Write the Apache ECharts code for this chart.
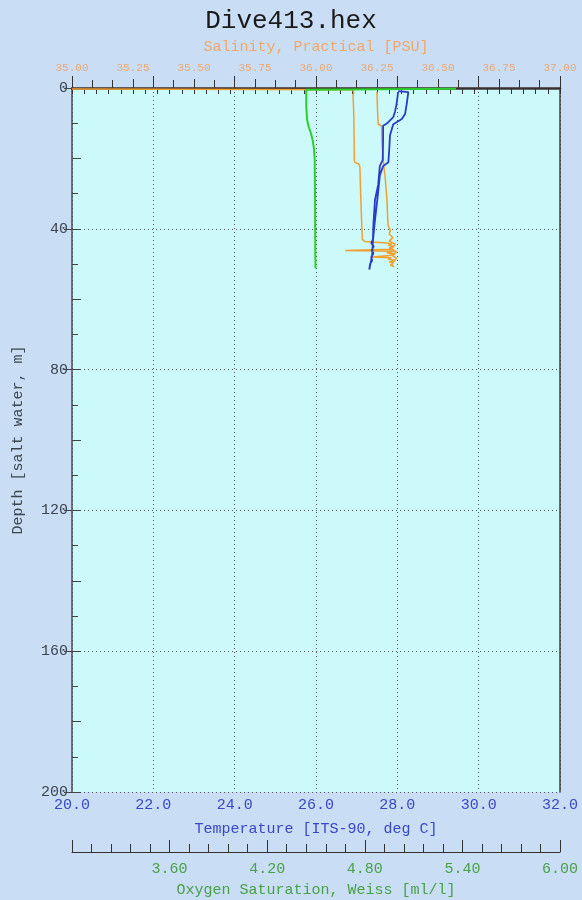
<!DOCTYPE html>
<html>
<head>
<meta charset="utf-8">
<script src="https://cdn.jsdelivr.net/npm/echarts@6/dist/echarts.min.js"></script>
<style>
  html, body { margin: 0; padding: 0; background: #c9ddf5; }
  #chart { width: 582px; height: 900px; }
</style>
</head>
<body>
<div id="chart"></div>
<script>
// CTD cast profile: salinity, temperature and oxygen against depth

// Salinity (PSU) by depth (m) — down cast, noisy bottom readings, up cast
const salDepth = [0.3, 0.5, 1.2, 2, 8, 14, 20.5, 21.2, 21.5, 22.5, 30, 38, 43, 43.6, 44.0, 44.3, 44.6, 45.0, 45.4, 45.8, 46.2, 46.4, 46.8, 47.2, 47.6, 48.0, 48.2, 48.6, 49.0, 49.4, 49.8, 50.3, 50.8, 50.2, 49.2, 48.4, 47.4, 46.6, 45.6, 44.4, 43.5, 42.5, 41.5, 40.5, 39, 32, 25, 21.7, 15, 10.8, 10.3, 6, 1.1];
const salValues = [35.00, 36.15, 36.155, 36.152, 36.155, 36.156, 36.157, 36.16, 36.175, 36.18, 36.183, 36.187, 36.19, 36.20, 36.29, 36.31, 36.295, 36.32, 36.30, 36.315, 36.12, 36.32, 36.29, 36.325, 36.30, 36.23, 36.31, 36.295, 36.325, 36.30, 36.315, 36.305, 36.32, 36.31, 36.32, 36.33, 36.31, 36.33, 36.31, 36.325, 36.30, 36.315, 36.30, 36.305, 36.295, 36.291, 36.283, 36.277, 36.27, 36.269, 36.255, 36.252, 36.25];

// Temperature (deg C) by depth (m)
const tempDepth = [1.2, 4.6, 6.8, 8.3, 10.1, 10.7, 14.8, 20.5, 22.1, 27.4, 31.9, 39.0, 43, 44, 45, 46, 47, 48, 49, 50, 51.6, 47.6, 43.3, 37.6, 30.5, 24.8, 22.2, 21.1, 17.7, 13.4, 10.3, 9.8, 8.8, 7.4, 4.6, 1.2, 0.9];
const tempValues = [28.02, 27.98, 27.94, 27.90, 27.74, 27.65, 27.65, 27.64, 27.57, 27.53, 27.45, 27.41, 27.40, 27.36, 27.42, 27.37, 27.41, 27.36, 27.38, 27.33, 27.31, 27.38, 27.40, 27.45, 27.52, 27.57, 27.65, 27.78, 27.80, 27.82, 27.90, 27.94, 28.11, 28.19, 28.23, 28.27, 28.02];

// Oxygen saturation (ml/l) by depth (m)
const oxyDepth = [0.2, 0.5, 5, 9, 11, 13, 15, 17, 20, 25, 30, 40, 48, 51.3];
const oxyValues = [5.36, 4.44, 4.44, 4.445, 4.455, 4.47, 4.48, 4.487, 4.492, 4.493, 4.494, 4.495, 4.496, 4.497];

const zip = (vals, depths) => vals.map((v, i) => [v, depths[i]]);

const FONT = 'Liberation Mono';
const DOTTED = [1, 3];

const chart = echarts.init(document.getElementById('chart'), null, { renderer: 'canvas' });

chart.setOption({
  backgroundColor: '#c9ddf5',
  animation: false,
  title: {
    text: 'Dive413.hex',
    left: 'center',
    top: 3,
    textStyle: { fontFamily: FONT, fontSize: 26, fontWeight: 'normal', color: '#1a1a1a' }
  },
  grid: {
    left: 72, right: 22, top: 88, bottom: 108,
    show: true, backgroundColor: '#ccf9f9', borderWidth: 0,
    outerBoundsMode: 'none'
  },
  xAxis: [
    { // salinity labels and outward major ticks
      type: 'value', position: 'top', min: 35, max: 37, interval: 0.25,
      name: 'Salinity, Practical [PSU]', nameLocation: 'middle', nameGap: 33,
      nameTextStyle: { fontFamily: FONT, fontSize: 15, color: '#f0a868' },
      axisLine: { show: true, lineStyle: { color: '#777', width: 1 } },
      axisTick: { show: true, inside: false, length: 9, lineStyle: { color: '#333' } },
      axisLabel: { margin: 14, fontFamily: FONT, fontSize: 11, color: '#eba874',
        formatter: v => v.toFixed(2) },
      splitLine: { show: false }
    },
    { // salinity inward minor ticks
      type: 'value', position: 'top', min: 35, max: 37, interval: 0.25,
      axisLine: { show: false },
      axisTick: { show: true, inside: true, length: 6, lineStyle: { color: '#333' } },
      minorTick: { show: true, splitNumber: 5, length: 6, lineStyle: { color: '#333' } },
      axisLabel: { show: false }, splitLine: { show: false }
    },
    { // temperature
      type: 'value', position: 'bottom', min: 20, max: 32, interval: 2,
      name: 'Temperature [ITS-90, deg C]', nameLocation: 'middle', nameGap: 30,
      nameTextStyle: { fontFamily: FONT, fontSize: 15, color: '#3848c8' },
      axisLine: { show: true, lineStyle: { color: '#3a3030', width: 2.5 } },
      axisTick: { show: true, inside: true, length: 12, lineStyle: { color: '#333' } },
      minorTick: { show: true, splitNumber: 4, length: 8, lineStyle: { color: '#333' } },
      axisLabel: { margin: 6, fontFamily: FONT, fontSize: 15, color: '#3848c8',
        formatter: v => v.toFixed(1) },
      splitLine: { show: true, lineStyle: { color: '#555', width: 1, type: DOTTED } }
    },
    { // oxygen
      type: 'value', position: 'bottom', offset: 60, min: 3, max: 6, interval: 0.6,
      name: 'Oxygen Saturation, Weiss [ml/l]', nameLocation: 'middle', nameGap: 31,
      nameTextStyle: { fontFamily: FONT, fontSize: 15, color: '#48a048' },
      axisLine: { show: true, lineStyle: { color: '#333', width: 1 } },
      axisTick: { show: true, inside: true, length: 12, lineStyle: { color: '#333' } },
      minorTick: { show: true, splitNumber: 5, length: 8, lineStyle: { color: '#333' } },
      axisLabel: { margin: 10, fontFamily: FONT, fontSize: 15, color: '#48a048',
        formatter: v => Math.abs(v - 3) < 1e-9 ? '' : v.toFixed(2) },
      splitLine: { show: false }
    }
  ],
  yAxis: [
    { // depth labels and outward ticks
      type: 'value', inverse: true, position: 'left', min: 0, max: 200, interval: 40,
      name: 'Depth [salt water, m]', nameLocation: 'middle', nameGap: 46,
      nameTextStyle: { fontFamily: FONT, fontSize: 15, color: '#3c4650' },
      axisLine: { show: true, lineStyle: { color: '#444c55', width: 1.5 } },
      axisTick: { show: true, inside: false, length: 8, lineStyle: { color: '#444' } },
      axisLabel: { margin: 4, fontFamily: FONT, fontSize: 15, color: '#3c4650' },
      splitLine: { show: true, lineStyle: { color: '#555', width: 1, type: DOTTED } }
    },
    { // depth inward ticks
      type: 'value', inverse: true, position: 'left', min: 0, max: 200, interval: 20,
      axisLine: { show: false },
      axisTick: { show: true, inside: true, length: 9, lineStyle: { color: '#444' } },
      minorTick: { show: true, splitNumber: 2, length: 6, lineStyle: { color: '#444' } },
      axisLabel: { show: false }, splitLine: { show: false }
    },
    { // right frame
      type: 'value', inverse: true, position: 'right', min: 0, max: 200,
      axisLine: { show: true, lineStyle: { color: '#443c3c', width: 1.5 } },
      axisTick: { show: false }, axisLabel: { show: false }, splitLine: { show: false }
    }
  ],
  series: [
    {
      name: 'Salinity', type: 'line', xAxisIndex: 0, yAxisIndex: 0,
      data: zip(salValues, salDepth), showSymbol: false,
      lineStyle: { color: '#f0a030', width: 1.5 }, z: 3
    },
    {
      name: 'Temperature', type: 'line', xAxisIndex: 2, yAxisIndex: 0,
      data: zip(tempValues, tempDepth), showSymbol: false,
      lineStyle: { color: '#2a3cc8', width: 1.8 }, z: 4
    },
    {
      name: 'Oxygen', type: 'line', xAxisIndex: 3, yAxisIndex: 0,
      data: zip(oxyValues, oxyDepth), showSymbol: false,
      lineStyle: { color: '#2cd02c', width: 2 }, z: 5
    }
  ]
});
</script>
</body>
</html>
